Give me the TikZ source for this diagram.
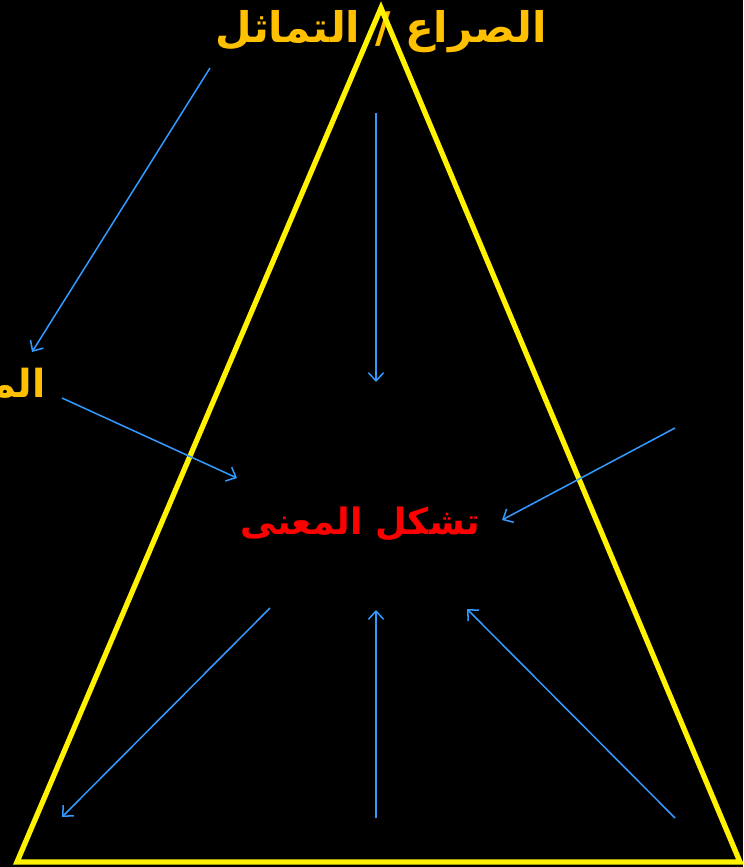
\documentclass[tikz,border=0pt]{standalone}
\usepackage{fontspec}
\newfontfamily\arabicfont[Script=Arabic]{DejaVu Sans}
\TeXXeTstate=1
\usetikzlibrary{arrows.meta}
\definecolor{gold}{HTML}{FFC000}
\definecolor{arrowblue}{HTML}{3399FF}
\tikzset{
  arlabel/.style={inner sep=0pt,font=\arabicfont\bfseries\fontsize{33}{38}\selectfont},
  pointer/.style={arrowblue,line width=1.3pt,-{Straight Barb[length=7pt,width=13pt]}}
}
\begin{document}
\begin{tikzpicture}[x=0.03cm,y=-0.03cm]
\useasboundingbox (0,0) rectangle (743,867);
\fill[black] (0,0) rectangle (743,867);
\clip (0,0) rectangle (743,867);
\node[arlabel,text=gold,font=\arabicfont\bfseries\fontsize{36}{40}\selectfont] (conflict) at (381,32) {\beginR الصراع / التماثل\endR};
\node[arlabel,text=gold,anchor=east] (meaning) at (46,385) {\beginR المعنى\endR};
\node[arlabel,text=red,font=\arabicfont\bfseries\fontsize{31}{36}\selectfont] (forming) at (360,524) {\beginR تشكل المعنى\endR};
\draw[yellow,line width=4.5pt,line join=miter] (381,8) -- (740,862) -- (17,862) -- cycle;
\coordinate (a1) at (210,68);
\coordinate (b1) at (32,352);
\coordinate (a2) at (62,398);
\coordinate (b2) at (237,478);
\coordinate (a3) at (376,113);
\coordinate (b3) at (376,382);
\coordinate (a4) at (675,428);
\coordinate (b4) at (502,520);
\coordinate (a5) at (270,608);
\coordinate (b5) at (62,817);
\coordinate (a6) at (376,818);
\coordinate (b6) at (376,610);
\coordinate (a7) at (675,818);
\coordinate (b7) at (467,609);
\foreach \i in {1,...,7}
  \draw[pointer] (a\i) -- (b\i);
\end{tikzpicture}
\end{document}
